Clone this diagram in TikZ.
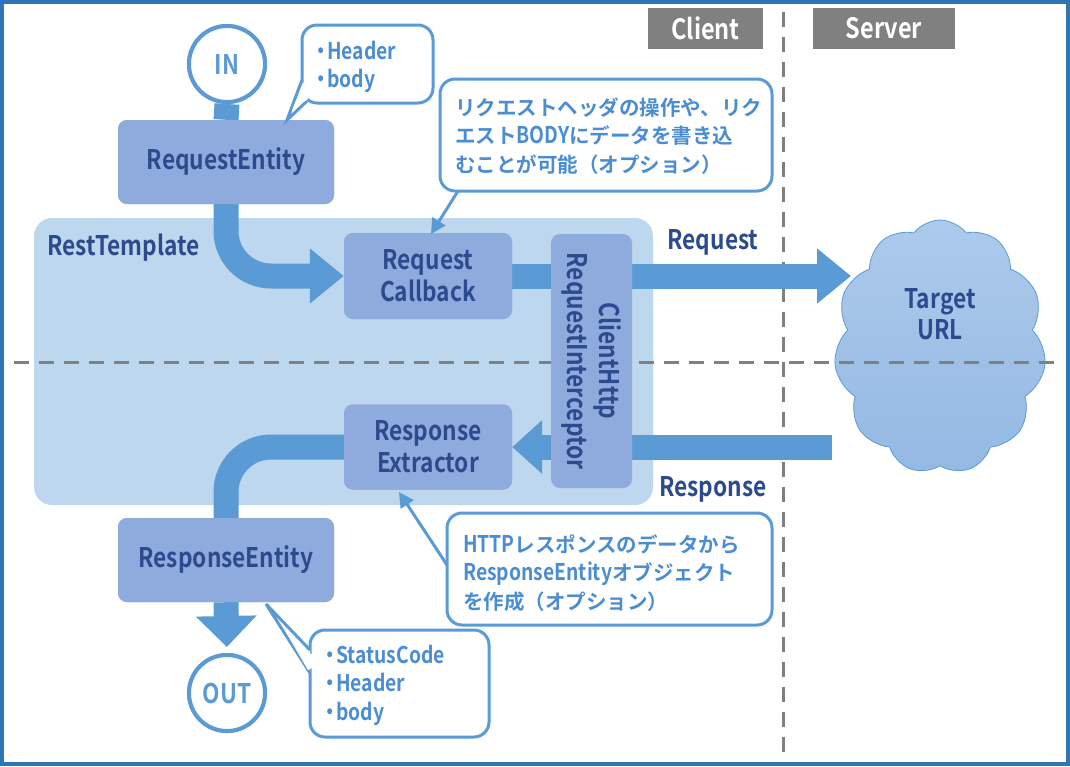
\documentclass[tikz,border=0pt]{standalone}
\usepackage{fontspec}
\usetikzlibrary{arrows.meta,shapes.symbols,calc}
\setmainfont{Noto Sans CJK JP}
\newfontfamily\nar{Noto Sans CJK JP Bold}[FakeStretch=0.84]
\newfontfamily\jpb{Noto Sans CJK JP Bold}
\definecolor{framec}{HTML}{2E75B6}
\definecolor{bgl}{HTML}{BDD7EE}
\definecolor{boxc}{HTML}{8FAADC}
\definecolor{dark}{HTML}{2C4A8E}
\definecolor{arrc}{HTML}{5B9BD5}
\definecolor{ctxt}{HTML}{4B8DD2}
\definecolor{gr}{HTML}{808080}
\definecolor{cloudt}{HTML}{ADCAEB}
\definecolor{cloudb}{HTML}{94B9E3}
\newcommand{\bul}{・\kern-0.14em}
\tikzset{
 box/.style={fill=boxc, rounded corners=9pt, text=dark, font=\nar\fontsize{27}{32}\selectfont, align=center, inner sep=0pt},
 fatline/.style={draw=arrc, line width=25pt},
 fat/.style={fatline, -{Triangle[length=34pt,width=53pt]}},
 circ/.style={circle, draw=arrc, line width=4pt, fill=white, minimum size=76pt, inner sep=0pt, text=arrc, font=\nar\fontsize{27}{32}\selectfont},
 callout/.style={draw=arrc, line width=3pt, fill=white, rounded corners=15pt, inner sep=0pt},
 ctext/.style={text=ctxt, font=\nar\fontsize{23}{28.5}\selectfont, align=left, inner sep=0pt},
 jtext/.style={text=ctxt, font=\jpb\fontsize{20.5}{28.5}\selectfont, align=left, inner sep=0pt},
 lab/.style={text=dark, font=\nar\fontsize{27}{31}\selectfont, inner sep=0pt},
 glab/.style={fill=gr, text=white, font=\nar\fontsize{28}{32}\selectfont, inner sep=0pt, minimum height=41pt},
 dashln/.style={draw=gr, line width=3pt, dash pattern=on 15pt off 10pt},
 carrow/.style={draw=arrc, line width=3pt, -{Triangle[length=15pt,width=15pt]}},
 tail/.style={draw=arrc, line width=3pt, fill=white, line join=miter},
}
\begin{document}
\begin{tikzpicture}[x=1pt,y=-1pt]
\useasboundingbox (0,0) rectangle (1070,766);
\fill[white] (0,0) rectangle (1070,766);
% RestTemplate background
\node[fill=bgl, rounded corners=18pt, minimum width=619pt, minimum height=287pt, inner sep=0pt] (rtbg) at (343.5,361.5) {};
% cloud
\node[cloud, cloud puffs=11, cloud puff arc=105, aspect=0.82, draw=arrc, line width=0.8pt, top color=cloudt, bottom color=cloudb, minimum width=212pt, minimum height=254pt, inner sep=0pt] (cloud) at (940,347) {};
% dashed lines
\coordinate (vtop) at (783,12);
\coordinate (vbot) at (783,758);
\coordinate (hl) at (14,362);
\coordinate (hr) at (1060,362);
\draw[dashln] (vtop) -- (vbot);
\draw[dashln] (hl) -- (hr);
% boxes (positions)
\node[box, minimum width=216pt, minimum height=84pt] (reqent) at (226,162) {RequestEntity};
\node[box, minimum width=168pt, minimum height=86pt] (cb) at (428,276) {Request\\Callback};
\node[box, minimum width=168pt, minimum height=85pt] (rex) at (428,447) {Response\\Extractor};
\node[box, minimum width=216pt, minimum height=84pt] (resent) at (226,560) {ResponseEntity};
\node[circ] (in) at (227,64) {IN};
\node[circ] (out) at (227,693) {OUT};
% thick arrows
\coordinate (reqend) at (851,276);
\coordinate (resstart) at (832,447);
\draw[fatline] (in.south) -- (reqent.north);
\draw[fat, rounded corners=45pt] (reqent.south) |- (cb.west);
\draw[fat] (cb.east) -- (reqend);
\draw[fat, -{Triangle[length=30pt,width=52pt]}] (resstart) -- (rex.east);
\draw[fatline, rounded corners=45pt] (rex.west) -| (resent.north);
\draw[fatline, -{Triangle[length=31pt,width=59pt]}, shorten >=6pt] (resent.south) -- (out.north);
% redraw boxes on top
\node[box, minimum width=216pt, minimum height=84pt] at (reqent) {RequestEntity};
\node[box, minimum width=168pt, minimum height=86pt] at (cb) {Request\\Callback};
\node[box, minimum width=168pt, minimum height=85pt] at (rex) {Response\\Extractor};
\node[box, minimum width=216pt, minimum height=84pt] at (resent) {ResponseEntity};
\node[circ] at (in) {IN};
\node[circ] at (out) {OUT};
\node[box, minimum width=254pt, minimum height=81pt, rotate=-90] (ic) at (591.5,361) {ClientHttp\\RequestInterceptor};
% labels
\node[lab, anchor=west] (rt) at (47,248) {RestTemplate};
\node[lab] (reqlab) at (713,242) {Request};
\node[lab] (reslab) at (713,489) {Response};
\node[lab, align=center] (tgt) at (940,314) {Target\\URL};
\node[glab, minimum width=115pt] (client) at (705.5,28) {Client};
\node[glab, minimum width=142pt] (server) at (884,28) {Server};
% callout Header/body
\node[callout, minimum width=131pt, minimum height=78pt] (c1) at (367.5,64) {};
\draw[tail] (302,80) -- (287,120) -- (307,101);
\fill[white] (304,82) -- (292,110) -- (308,99) -- (306,80) -- cycle;
\node[ctext, anchor=west] (c1t) at (311,67) {\bul Header\\\bul body};
% callout StatusCode
\node[callout, minimum width=179pt, minimum height=107pt] (c2) at (399.5,683.5) {};
\draw[tail] (310,650) -- (266,604) -- (310,673);
\fill[white] (308,653) -- (280,622) -- (308,670) -- (312,668) -- (312,654) -- cycle;
\node[ctext, anchor=west] (c2t) at (320,685) {\bul StatusCode\\\bul Header\\\bul body};
% JP callout 1
\node[callout, minimum width=332pt, minimum height=112pt] (jp1) at (606,135) {};
\node[jtext, anchor=west] (jp1t) at (455,136) {リクエストヘッダの操作や、リク\\エスト{\nar\fontsize{23}{28.5}\selectfont BODY}にデータを書き込\\むことが可能（オプション）};
\coordinate (a1s) at (458,191);
\coordinate (a1e) at (431,234);
\draw[carrow] (a1s) -- (a1e);
% JP callout 2
\node[callout, minimum width=325pt, minimum height=112pt] (jp2) at (609.5,569) {};
\node[jtext, anchor=west] (jp2t) at (463,573) {{\nar\fontsize{23}{28.5}\selectfont HTTP}レスポンスのデータから\\{\nar\fontsize{23}{28.5}\selectfont ResponseEntity}オブジェクト\\を作成（オプション）};
\coordinate (a2s) at (447,565);
\coordinate (a2e) at (399,492);
\draw[carrow] (a2s) -- (a2e);
% frame
\draw[framec, line width=4pt] (2,2) rectangle (1068,764);
\end{tikzpicture}
\end{document}
